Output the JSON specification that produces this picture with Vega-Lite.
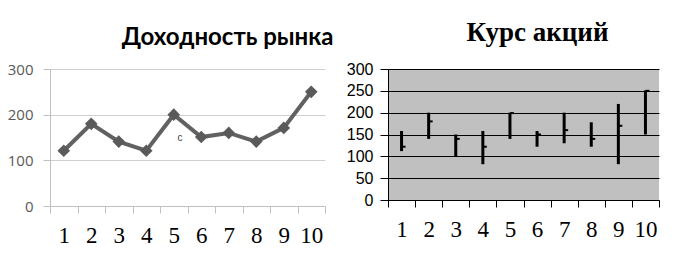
{
  "$schema": "https://vega.github.io/schema/vega-lite/v6.json",
  "padding": {"left": 5, "top": 19, "right": 21, "bottom": 0},
  "spacing": 11,
  "background": "white",
  "config": {"view": {"stroke": null}},
  "datasets": {
    "t": [
      {"n": 1, "market": 121, "high": 158, "low": 112, "close": 122},
      {"n": 2, "market": 180, "high": 200, "low": 140, "close": 180},
      {"n": 3, "market": 141, "high": 150, "low": 100, "close": 140},
      {"n": 4, "market": 121, "high": 158, "low": 82, "close": 122},
      {"n": 5, "market": 200, "high": 200, "low": 140, "close": 199},
      {"n": 6, "market": 151, "high": 158, "low": 122, "close": 150},
      {"n": 7, "market": 160, "high": 200, "low": 130, "close": 160},
      {"n": 8, "market": 141, "high": 178, "low": 122, "close": 140},
      {"n": 9, "market": 171, "high": 220, "low": 82, "close": 170},
      {"n": 10, "market": 250, "high": 251, "low": 150, "close": 250}
    ],
    "note": [{"n": 5, "v": 150, "t": "c"}]
  },
  "hconcat": [
    {
      "width": 275,
      "height": 137,
      "title": {"text": "Доходность рынка", "anchor": "end", "font": "Lato", "fontSize": 24, "fontWeight": "bold", "color": "black", "offset": 12, "dx": 8},
      "layer": [
        {
          "data": {"name": "t"},
          "mark": {"type": "line", "color": "#616161", "strokeWidth": 4},
          "encoding": {
            "x": {"field": "n", "type": "ordinal", "bandPosition": 0.5},
            "y": {"field": "market", "type": "quantitative"}
          }
        },
        {
          "data": {"name": "t"},
          "mark": {"type": "point", "shape": "diamond", "filled": true, "size": 160, "color": "#5a5a5a", "opacity": 1},
          "encoding": {
            "x": {"field": "n", "type": "ordinal", "bandPosition": 0.5},
            "y": {"field": "market", "type": "quantitative"}
          }
        },
        {
          "data": {"name": "note"},
          "mark": {"type": "text", "fontSize": 10, "color": "#444", "font": "Liberation Sans"},
          "encoding": {
            "x": {"field": "n", "type": "ordinal", "bandPosition": 0.73},
            "y": {"field": "v", "type": "quantitative"},
            "text": {"field": "t"}
          }
        }
      ],
      "encoding": {
        "x": {
          "field": "n", "type": "ordinal",
          "scale": {"type": "band", "paddingInner": 0, "paddingOuter": 0},
          "axis": {"title": null, "labelAngle": 0, "labelFont": "Liberation Serif", "labelFontSize": 23, "labelColor": "black", "tickBand": "extent", "tickColor": "#bfbfbf", "tickSize": 7, "domainColor": "#bfbfbf", "labelPadding": 11, "grid": false}
        },
        "y": {
          "type": "quantitative",
          "scale": {"domain": [0, 300]},
          "axis": {"values": [0, 100, 200, 300], "title": null, "labelFont": "Open Sans", "labelFontSize": 15, "labelColor": "#595959", "tickSize": 7, "tickColor": "#bfbfbf", "domainColor": "#bfbfbf", "gridColor": "#d0d0d0", "labelPadding": 10, "minExtent": 45, "maxExtent": 45}
        }
      }
    },
    {
      "width": 271,
      "height": 131,
      "view": {"fill": "#c0c0c0", "stroke": null},
      "title": {"text": "Курс акций", "anchor": "middle", "font": "Liberation Serif", "fontSize": 27, "fontWeight": "bold", "color": "black", "offset": 14, "dx": 14},
      "data": {"name": "t"},
      "encoding": {
        "x": {
          "field": "n", "type": "ordinal", "bandPosition": 0.5,
          "scale": {"type": "band", "paddingInner": 0, "paddingOuter": 0},
          "axis": {"title": null, "labelAngle": 0, "labelFont": "Liberation Serif", "labelFontSize": 23, "labelColor": "black", "tickBand": "extent", "tickColor": "black", "tickSize": 7, "domainColor": "black", "labelPadding": 11, "grid": false}
        }
      },
      "layer": [
        {
          "mark": {"type": "rule", "color": "black", "strokeWidth": 3},
          "encoding": {
            "y": {"field": "low", "type": "quantitative", "scale": {"domain": [0, 300]},
              "axis": {"values": [0, 50, 100, 150, 200, 250, 300], "title": null, "labelFont": "Liberation Sans", "labelFontSize": 16, "labelColor": "black", "tickSize": 8, "tickColor": "black", "domainColor": "black", "gridColor": "black", "gridOpacity": 1, "labelPadding": 7, "minExtent": 43, "maxExtent": 43}},
            "y2": {"field": "high"}
          }
        },
        {
          "mark": {"type": "tick", "color": "black", "size": 4, "thickness": 2, "xOffset": 2, "opacity": 1},
          "encoding": {
            "y": {"field": "close", "type": "quantitative", "scale": {"domain": [0, 300]},
              "axis": {"values": [0, 50, 100, 150, 200, 250, 300], "title": null, "labelFont": "Liberation Sans", "labelFontSize": 16, "labelColor": "black", "tickSize": 8, "tickColor": "black", "domainColor": "black", "gridColor": "black", "gridOpacity": 1, "labelPadding": 7, "minExtent": 43, "maxExtent": 43}}
          }
        }
      ]
    }
  ]
}
